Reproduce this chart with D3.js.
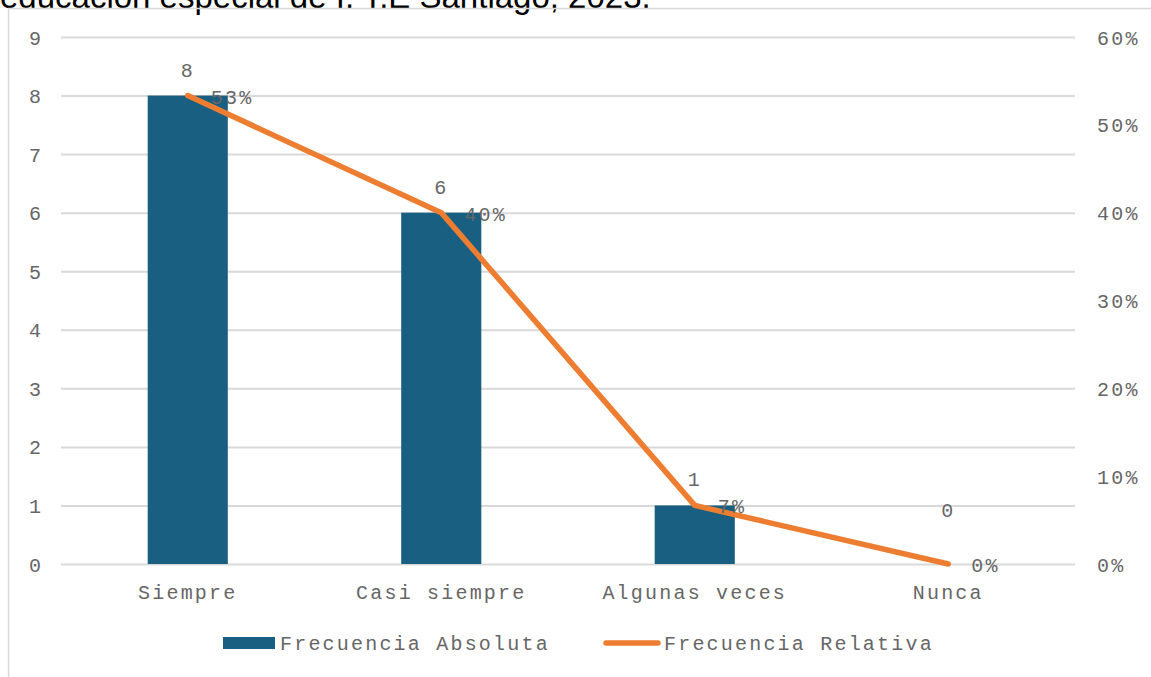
<!DOCTYPE html>
<html>
<head>
<meta charset="utf-8">
<script src="https://cdn.jsdelivr.net/npm/d3@7"></script>
<style>
  html, body { margin: 0; padding: 0; background: #ffffff; overflow: hidden; }
  svg { display: block; }
</style>
</head>
<body>
<svg id="chart" width="1151" height="677"></svg>
<script>
// Data
const categories = ["Siempre", "Casi siempre", "Algunas veces", "Nunca"];
const absoluteFreq = [8, 6, 1, 0];
const relativeFreq = [0.5333, 0.40, 0.0667, 0.0];
const relativeLabels = ["53%", "40%", "7%", "0%"];
const leftTicks = [0, 1, 2, 3, 4, 5, 6, 7, 8, 9];
const rightTicks = [0, 0.1, 0.2, 0.3, 0.4, 0.5, 0.6];
const seriesNames = ["Frecuencia Absoluta", "Frecuencia Relativa"];
const titleText = "educación especial de I. T.E Santiago, 2023.";

const W = 1151, H = 677;
const plot = { left: 61, right: 1075, top: 37, bottom: 564 };
const barColor = "#185f81";
const lineColor = "#ed7d31";
const textColor = "#666666";
const gridColor = "#d9d9d9";
const monoFont = "'Courier New', 'Liberation Mono', monospace";

const svg = d3.select("#chart");

// Title line (top of figure, running past the page edge)
svg.append("text")
  .attr("x", 0).attr("y", 8)
  .attr("font-family", "Arial, 'Liberation Sans', sans-serif")
  .attr("font-size", 33)
  .attr("fill", "#000")
  .text(titleText);

// Chart frame
svg.append("rect")
  .attr("x", 8.5).attr("y", 8.5)
  .attr("width", W + 20).attr("height", H + 20)
  .attr("fill", "none")
  .attr("stroke", gridColor)
  .attr("stroke-width", 1.5);

// Scales
const x = d3.scaleBand().domain(categories).range([plot.left, plot.right]).paddingInner(0).paddingOuter(0);
const yLeft = d3.scaleLinear().domain([0, 9]).range([plot.bottom, plot.top]);
const yRight = d3.scaleLinear().domain([0, 0.6]).range([plot.bottom, plot.top]);
const barW = x.bandwidth() * 0.316;
const cx = d => x(d) + x.bandwidth() / 2;

function styleText(sel, size) {
  return sel.attr("font-family", monoFont)
    .attr("font-size", size)
    .attr("letter-spacing", 2.2)
    .attr("fill", textColor);
}

// Gridlines + left axis
const leftAxis = d3.axisLeft(yLeft).tickValues(leftTicks).tickSize(-(plot.right - plot.left)).tickPadding(18).tickFormat(d3.format("d"));
const gL = svg.append("g").attr("transform", `translate(${plot.left},0)`).call(leftAxis);
gL.select(".domain").remove();
gL.selectAll(".tick line").attr("stroke", gridColor).attr("stroke-width", 2);
gL.selectAll(".tick text").call(styleText, 20).attr("text-anchor", "middle").attr("x", -25).attr("dy", "0.35em");

// Right axis
const rightAxis = d3.axisRight(yRight).tickValues(rightTicks).tickSize(0).tickPadding(0).tickFormat(d3.format(".0%"));
const gR = svg.append("g").attr("transform", `translate(1097,0)`).call(rightAxis);
gR.select(".domain").remove();
gR.selectAll(".tick text").call(styleText, 20).attr("text-anchor", "start").attr("x", 0).attr("dy", "0.35em");

// Bars
svg.append("g").selectAll("rect").data(categories).join("rect")
  .attr("x", (d) => cx(d) - barW / 2)
  .attr("width", barW)
  .attr("y", (d, i) => yLeft(absoluteFreq[i]))
  .attr("height", (d, i) => yLeft(0) - yLeft(absoluteFreq[i]))
  .attr("fill", barColor);

// Bottom category axis labels
svg.append("g").selectAll("text").data(categories).join("text")
  .attr("x", d => cx(d))
  .attr("y", 599)
  .attr("text-anchor", "middle")
  .call(styleText, 20)
  .text(d => d);

// Line for relative frequency
const line = d3.line()
  .x((d, i) => cx(categories[i]))
  .y(d => yRight(d));
svg.append("path")
  .datum(relativeFreq)
  .attr("d", line)
  .attr("fill", "none")
  .attr("stroke", lineColor)
  .attr("stroke-width", 5.5)
  .attr("stroke-linecap", "round")
  .attr("stroke-linejoin", "round");

// Bar value labels
svg.append("g").selectAll("text").data(absoluteFreq).join("text")
  .attr("x", (d, i) => cx(categories[i]))
  .attr("y", d => yLeft(d) - (d === 0 ? 47 : 19))
  .attr("text-anchor", "middle")
  .call(styleText, 20)
  .text(d => d);

// Relative frequency labels
svg.append("g").selectAll("text").data(relativeFreq).join("text")
  .attr("x", (d, i) => cx(categories[i]) + 23)
  .attr("y", d => yRight(d) + 8)
  .attr("text-anchor", "start")
  .call(styleText, 20)
  .text((d, i) => relativeLabels[i]);

// Legend
const lg = svg.append("g");
lg.append("rect").attr("x", 223).attr("y", 637).attr("width", 52).attr("height", 12).attr("fill", barColor);
lg.append("text").attr("x", 280).attr("y", 650).call(styleText, 20).text(seriesNames[0]);
lg.append("line").attr("x1", 606).attr("x2", 658).attr("y1", 643).attr("y2", 643)
  .attr("stroke", lineColor).attr("stroke-width", 5.5).attr("stroke-linecap", "round");
lg.append("text").attr("x", 664).attr("y", 650).call(styleText, 20).text(seriesNames[1]);
</script>
</body>
</html>
